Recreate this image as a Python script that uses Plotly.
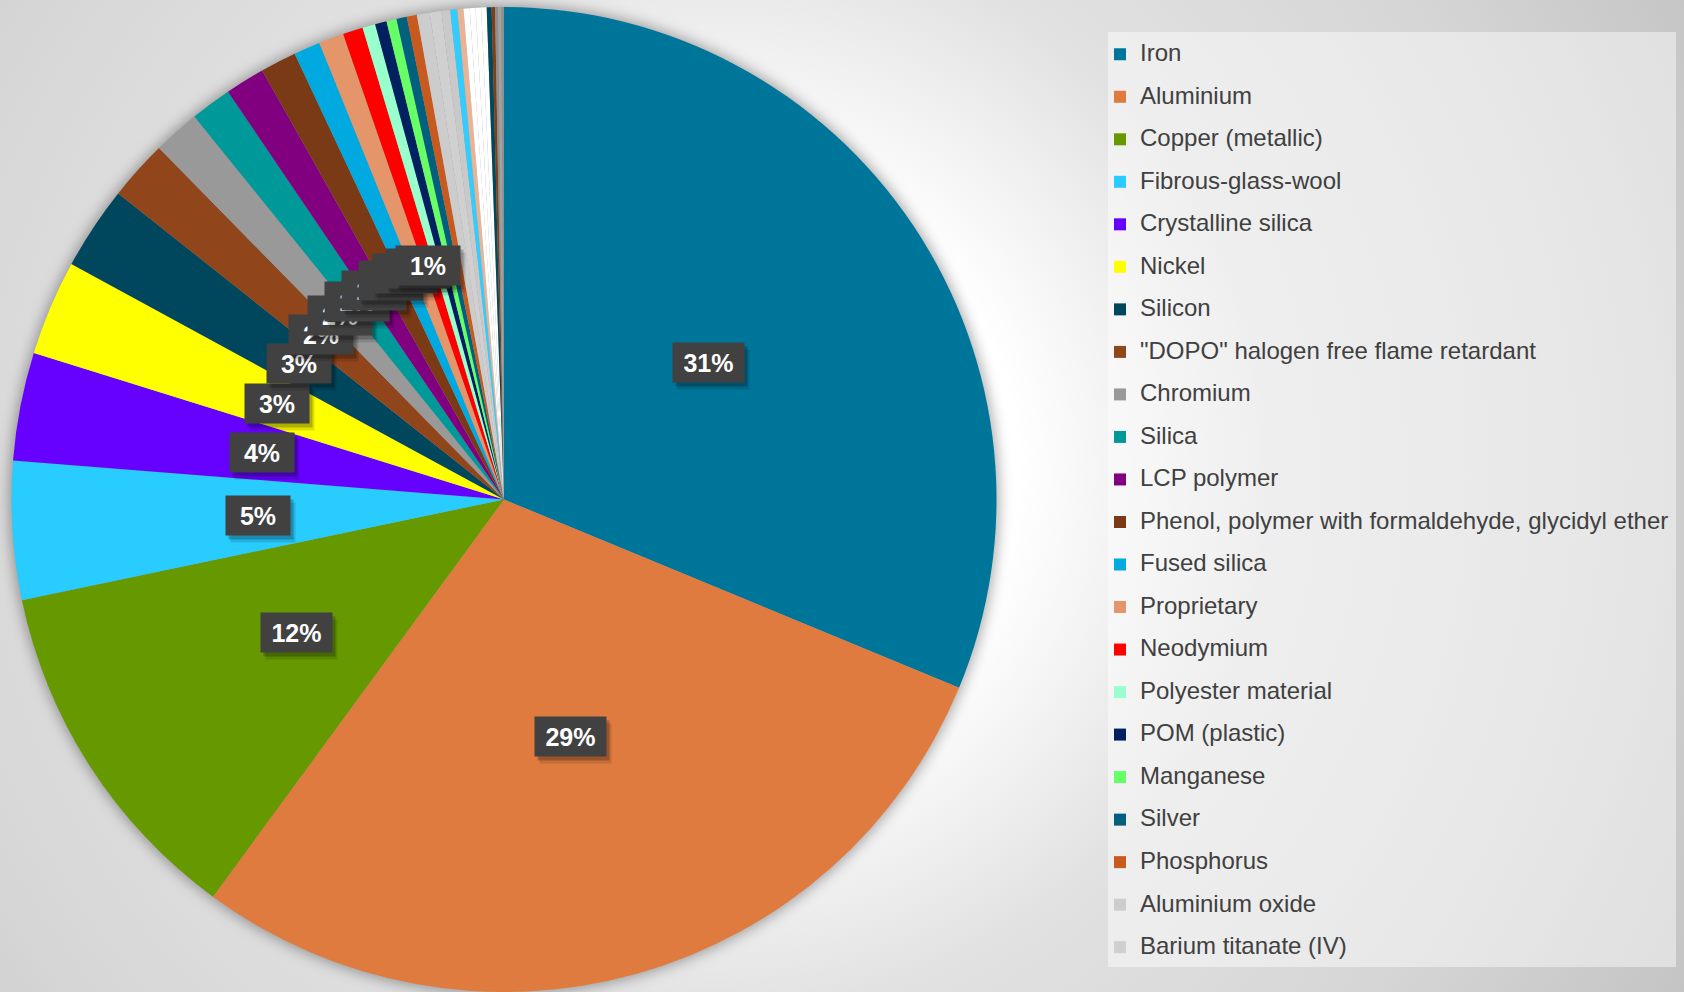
import base64
import math
import plotly.graph_objects as go

W, H = 1684, 992

# ---- data -------------------------------------------------------------
materials = [
    "Iron", "Aluminium", "Copper (metallic)", "Fibrous-glass-wool",
    "Crystalline silica", "Nickel", "Silicon",
    "\"DOPO\" halogen free flame retardant", "Chromium", "Silica",
    "LCP polymer", "Phenol, polymer with formaldehyde, glycidyl ether",
    "Fused silica", "Proprietary", "Neodymium", "Polyester material",
    "POM (plastic)", "Manganese", "Silver", "Phosphorus",
    "Aluminium oxide", "Barium titanate (IV)",
]
shares = [
    31.21, 28.79, 11.64, 4.54, 3.54, 3.12, 2.74, 1.97, 1.53, 1.35, 1.30,
    1.18, 0.87, 0.82, 0.66, 0.42, 0.38, 0.33, 0.34, 0.33, 0.42, 0.38,
]
colors = [
    "#00759a", "#e07b40", "#669900", "#29ccff", "#6600ff", "#ffff00",
    "#00475d", "#91451a", "#999999", "#009999", "#800080", "#7b3a16",
    "#00a9e0", "#e5956a", "#ff0000", "#99ffcc", "#002060", "#66ff66",
    "#00607e", "#c8591f", "#cccccc", "#d0d0d0",
]

# further minor components (not listed in the legend)
minor_labels = [f"Minor component {i + 1}" for i in range(12)]
minor_shares = [0.29, 0.23, 0.20, 0.20, 0.19, 0.18, 0.18, 0.16, 0.11,
                0.10, 0.10, 0.09]
minor_colors = ["#c9c9c9", "#33ccff", "#e9b394", "#ffffff", "#ffffff",
                "#ffffff", "#ffffff", "#00485b", "#7f3f16", "#8e8e8e",
                "#a3a3a3", "#909090"]

all_labels = materials + minor_labels
all_values = shares + minor_shares
all_colors = colors + minor_colors

# ---- geometry of the pie ----------------------------------------------
CX, CY, R = 504.0, 499.5, 492.5
dom_x = [(CX - R) / W, (CX + R) / W]
dom_y = [max(0.0, 1 - (CY + R) / H), 1 - (CY - R) / H]

# ---- background: radial gradient + soft shadow under the pie ------------
svg = f"""<svg xmlns="http://www.w3.org/2000/svg" width="{W}" height="{H}" viewBox="0 0 {W} {H}" preserveAspectRatio="none">
<defs>
<radialGradient id="bg" gradientUnits="userSpaceOnUse" cx="720" cy="470" r="1100">
<stop offset="0" stop-color="#ffffff"/>
<stop offset="0.27" stop-color="#ffffff"/>
<stop offset="0.5" stop-color="#e1e1e1"/>
<stop offset="0.75" stop-color="#d6d6d6"/>
<stop offset="1" stop-color="#c4c4c4"/>
</radialGradient>
<filter id="soft" x="-20%" y="-20%" width="140%" height="140%"><feGaussianBlur stdDeviation="7"/></filter>
</defs>
<rect x="0" y="0" width="{W}" height="{H}" fill="url(#bg)"/>
<circle cx="{CX}" cy="{CY}" r="{R + 2}" fill="#000000" fill-opacity="0.35" filter="url(#soft)"/>
</svg>"""
bg_src = "data:image/svg+xml;base64," + base64.b64encode(svg.encode()).decode()

fig = go.Figure()

# legend entries (small pie hidden underneath the main one)
legend_text = [
    f"<span style='font-size:24px;baseline-shift:5px'>{m}</span>" for m in materials
]
eps = 0.002
fig.add_trace(go.Pie(
    labels=legend_text, values=shares, sort=False, direction="clockwise",
    rotation=0, marker=dict(colors=colors, line=dict(width=0)),
    textinfo="none", hoverinfo="skip",
    domain=dict(x=[CX / W - eps, CX / W + eps], y=[1 - CY / H - eps, 1 - CY / H + eps]),
    showlegend=True,
))

# the pie itself
fig.add_trace(go.Pie(
    labels=all_labels, values=all_values, sort=False, direction="clockwise",
    rotation=0, marker=dict(colors=all_colors, line=dict(width=0)),
    textinfo="none", hoverinfo="label+percent",
    domain=dict(x=dom_x, y=dom_y), showlegend=False,
))

# ---- percentage labels in dark boxes ------------------------------------
total = sum(all_values)
annotations = []
cum = 0.0
for v in all_values:
    mid = (cum + v / 2) / total * 2 * math.pi
    cum += v
    pct = int(v / total * 100 + 0.5)
    if pct < 1:
        continue
    r = 0.5 * R
    px = CX + r * math.sin(mid)
    py = CY - r * math.cos(mid)
    text = f"{pct}%"
    bw = 55 + 7 * len(str(pct))
    common = dict(
        x=px / W, y=1 - py / H, xref="paper", yref="paper",
        xanchor="center", yanchor="middle", showarrow=False,
        width=bw, height=37, borderpad=1, text=text,
        font=dict(family="Liberation Sans, Arial", size=25, weight="bold"),
    )
    # soft drop shadow: two offset translucent boxes
    for sx, sy, a in [(5, -7, 0.12), (3, -4, 0.22)]:
        annotations.append(dict(common, bgcolor=f"rgba(0,0,0,{a})",
                                font=dict(common["font"], color="rgba(0,0,0,0)"),
                                xshift=sx, yshift=sy))
    annotations.append(dict(common, bgcolor="#414141",
                            font=dict(common["font"], color="#ffffff")))

# translucent panel behind the legend
legend_panel = dict(
    type="rect", xref="paper", yref="paper",
    x0=1108 / W, x1=1676 / W, y0=1 - 967 / H, y1=1 - 32 / H,
    fillcolor="rgba(255,255,255,0.45)", line=dict(width=0), layer="below",
)

fig.update_layout(
    width=W, height=H,
    margin=dict(l=0, r=0, t=0, b=0),
    paper_bgcolor="#d9d9d9",
    images=[dict(source=bg_src, xref="paper", yref="paper", x=0, y=1,
                 sizex=1, sizey=1, xanchor="left", yanchor="top",
                 sizing="stretch", layer="below")],
    shapes=[legend_panel],
    legend=dict(
        x=1100 / W, y=1 - 28 / H, xanchor="left", yanchor="top",
        bgcolor="rgba(0,0,0,0)", borderwidth=0,
        font=dict(family="Liberation Sans, Arial", size=30.4, color="#404040"),
        traceorder="normal",
    ),
    annotations=annotations,
)

fig.write_html("out.html")
